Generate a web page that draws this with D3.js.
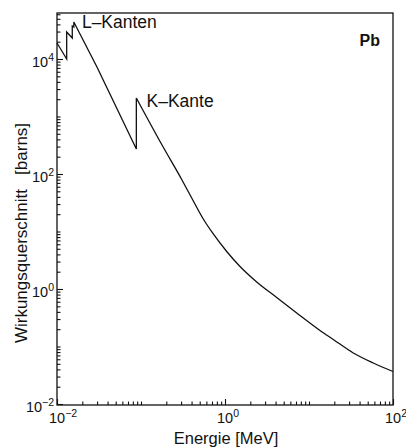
<!DOCTYPE html>
<html><head><meta charset="utf-8">
<script src="https://cdn.jsdelivr.net/npm/d3@7"></script>
<style>
html,body{margin:0;padding:0;background:#fff;}
svg{display:block;font-family:"Liberation Sans",Arial,sans-serif;}
</style></head>
<body>
<svg id="chart" width="406" height="448"></svg>
<script>
// Photon energy [MeV] and total cross section [barns] for lead (Pb)
// Absorption-edge part (L edges, K edge) drawn with straight segments
const edgeEnergyMeV = [0.01, 0.01304, 0.01304, 0.0152, 0.0152, 0.01586, 0.01586, 0.0299, 0.088, 0.088];
const edgeSigmaBarns = [19000, 10000, 29500, 23200, 37500, 36000, 44000, 7260, 272, 2100];
// Smooth part above the K edge
const energyMeV = [0.088, 0.178, 0.3076, 0.4015, 0.5516, 0.7256, 1.048, 1.509, 2.385, 4.126,
  7.139, 13.52, 19.46, 33.65, 58.3, 100];
const sigmaBarns = [2100, 319, 78.7, 38.3, 16.5, 9.05, 4.49, 2.46, 1.324, 0.711,
  0.383, 0.190, 0.1325, 0.0771, 0.0516, 0.0367];

const xMajorTicks = [1e-2, 1e0, 1e2];
const xTickExponents = ["\u22122", "0", "2"];
const yMajorTicks = [1e-2, 1e0, 1e2, 1e4];
const yTickExponents = ["\u22122", "0", "2", "4"];

const annotationText = ["L\u2013Kanten", "K\u2013Kante"];
const annotationE = [0.0198, 0.1163];
const annotationS = [34600, 1460];
const elementLabel = "Pb";
const xTitle = "Energie [MeV]";
const yTitle = "Wirkungsquerschnitt\u00a0\u00a0\u00a0[barns]";

(function () {
const svg = d3.select("#chart");
const mL = 57, mR = 393, mT = 13, mB = 405;
const yLow = 404, decade = 57.5;
const x = d3.scaleLog().domain([1e-2, 1e2]).range([mL, mR]);
const yMinDomain = Math.pow(10, -2 - (mB - yLow) / decade);
const yMaxDomain = Math.pow(10, -2 + (yLow - mT) / decade);
const y = d3.scaleLog().domain([yMinDomain, yMaxDomain]).range([mB, mT]);

function minorTicks(scale) {
  const [a, b] = scale.domain();
  const out = [];
  for (let d = Math.floor(Math.log10(a)); d <= Math.ceil(Math.log10(b)); d++) {
    for (let k = 2; k <= 9; k++) {
      const v = k * Math.pow(10, d);
      if (v >= a && v <= b) out.push(v);
    }
  }
  return out;
}
const xMinorAll = minorTicks(x).concat([1e-1, 1e1]);
const yMinorAll = minorTicks(y).concat([1e-1, 1e1, 1e3]);

svg.append("rect").attr("x", mL).attr("y", mT).attr("width", mR - mL).attr("height", mB - mT)
  .attr("fill", "none").attr("stroke", "#111").attr("stroke-width", 1.3);

const gx = svg.append("g").attr("transform", `translate(0,${mB})`);
gx.call(d3.axisBottom(x).tickValues(xMinorAll).tickSize(-3.5).tickFormat(""));
gx.append("g").call(d3.axisBottom(x).tickValues(xMajorTicks).tickSize(-6).tickFormat(""));
gx.selectAll(".domain").remove();
gx.selectAll("line").attr("stroke", "#111").attr("stroke-width", 1.1);

const gy = svg.append("g").attr("transform", `translate(${mL},0)`);
gy.call(d3.axisLeft(y).tickValues(yMinorAll).tickSize(-3.5).tickFormat(""));
gy.append("g").call(d3.axisLeft(y).tickValues(yMajorTicks).tickSize(-6).tickFormat(""));
gy.selectAll(".domain").remove();
gy.selectAll("line").attr("stroke", "#111").attr("stroke-width", 1.1);

xMajorTicks.forEach((v, i) => {
  const t = svg.append("text").attr("x", x(v) - 8).attr("y", mB + 18)
    .attr("font-size", 14.5).attr("fill", "#111");
  t.append("tspan").text("10");
  t.append("tspan").attr("dy", -6).attr("font-size", 10.5).text(xTickExponents[i]);
});
yMajorTicks.forEach((v, i) => {
  const t = svg.append("text").attr("x", mL - 3).attr("y", y(v) + 8)
    .attr("text-anchor", "end").attr("font-size", 14.5).attr("fill", "#111");
  t.append("tspan").text("10");
  t.append("tspan").attr("dy", -6).attr("font-size", 10.5).text(yTickExponents[i]);
});

const edgePts = edgeEnergyMeV.map((e, i) => [e, edgeSigmaBarns[i]]);
const smoothPts = energyMeV.map((e, i) => [e, sigmaBarns[i]]);
const lineLin = d3.line().x(d => x(d[0])).y(d => y(d[1]));
const lineSmooth = d3.line().x(d => x(d[0])).y(d => y(d[1])).curve(d3.curveMonotoneX);
svg.append("path").datum(edgePts).attr("d", lineLin).attr("fill", "none")
  .attr("stroke", "#111").attr("stroke-width", 1.3).attr("stroke-linejoin", "miter");
svg.append("path").datum(smoothPts).attr("d", lineSmooth).attr("fill", "none")
  .attr("stroke", "#111").attr("stroke-width", 1.3).attr("stroke-linejoin", "miter");

annotationText.forEach((txt, i) => {
  svg.append("text").attr("x", x(annotationE[i])).attr("y", y(annotationS[i]))
    .attr("font-size", 17.5).attr("fill", "#111").text(txt);
});
svg.append("text").attr("x", 380).attr("y", 46).attr("text-anchor", "end")
  .attr("font-size", 16).attr("font-weight", "bold").attr("fill", "#111").text(elementLabel);

svg.append("text").attr("x", (mL + mR) / 2 + 1).attr("y", 444).attr("text-anchor", "middle")
  .attr("font-size", 16.5).attr("fill", "#111").text(xTitle);
svg.append("text").attr("transform", "translate(27,233) rotate(-90)").attr("text-anchor", "middle")
  .attr("font-size", 17).attr("fill", "#111").text(yTitle);
})();
</script>
</body></html>
